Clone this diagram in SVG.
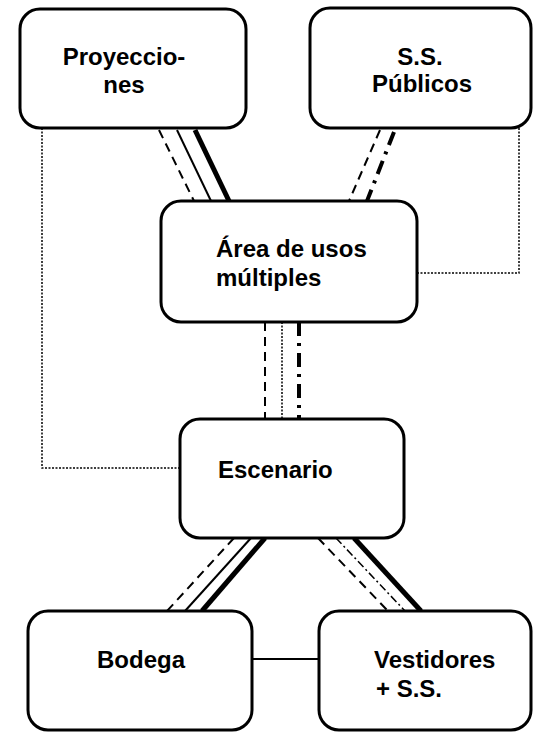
<svg xmlns="http://www.w3.org/2000/svg" width="534" height="732" viewBox="0 0 534 732">
<style>
.box{fill:#fff;stroke:#000;stroke-width:3}
.t{font-family:"Liberation Sans",Arial,sans-serif;font-weight:bold;font-size:24px;fill:#000}
.dash{fill:none;stroke:#000;stroke-width:2;stroke-dasharray:9,6}
.thin{fill:none;stroke:#000;stroke-width:2}
.thick{fill:none;stroke:#000;stroke-width:5}
.dot{fill:none;stroke:#000;stroke-width:1.5;stroke-dasharray:2,1.5}
.dd{fill:none;stroke:#000;stroke-width:4;stroke-dasharray:14,7,3,7}
.ddt{fill:none;stroke:#000;stroke-width:1.5;stroke-dasharray:8,3,2,3}
</style>
<rect width="534" height="732" fill="#fff"/>
<g id="connectors">
<path class="dash" d="M159 130 L194 201"/>
<path class="thin" d="M177 130 L211 201"/>
<path class="thick" d="M195 130 L229 201"/>
<path class="dash" d="M380 130 L349 201"/>
<path class="dd" d="M394 132 L367 201"/>
<path class="dash" d="M265 322 L265 419"/>
<path class="dot" d="M282 322 L282 419"/>
<path class="dd" d="M299 322 L299 419"/>
<path class="dot" d="M42 128 L42 468 L180 468"/>
<path class="dot" d="M519 128 L519 273 L417 273"/>
<path class="dash" d="M234 538 L167 611"/>
<path class="thin" d="M251 538 L185 611"/>
<path class="thick" d="M265 538 L202 611"/>
<path class="dash" d="M318 538 L388 611"/>
<path class="ddt" d="M336 538 L405 611"/>
<path class="thick" d="M354 538 L421 611"/>
<path class="thin" d="M252 659 L319 659"/>
</g>
<g id="proyecciones">
<rect class="box" x="20" y="9" width="226" height="119" rx="20"/>
<text class="t" x="124" y="65" text-anchor="middle">Proyeccio-</text>
<text class="t" x="124" y="93" text-anchor="middle">nes</text>
</g>
<g id="ss-publicos">
<rect class="box" x="310" y="8" width="221" height="120" rx="20"/>
<text class="t" x="420" y="65" text-anchor="middle">S.S.</text>
<text class="t" x="422" y="92" text-anchor="middle">Públicos</text>
</g>
<g id="area">
<rect class="box" x="161" y="201" width="256" height="121" rx="20"/>
<text class="t" x="216" y="257">Área de usos</text>
<text class="t" x="216" y="286">múltiples</text>
</g>
<g id="escenario">
<rect class="box" x="180" y="419" width="224" height="119" rx="20"/>
<text class="t" x="218" y="478">Escenario</text>
</g>
<g id="bodega">
<rect class="box" x="28" y="611" width="224" height="119" rx="20"/>
<text class="t" x="141" y="668" text-anchor="middle">Bodega</text>
</g>
<g id="vestidores">
<rect class="box" x="319" y="611" width="212" height="119" rx="20"/>
<text class="t" x="374" y="668">Vestidores</text>
<text class="t" x="376" y="697">+ S.S.</text>
</g>
</svg>
